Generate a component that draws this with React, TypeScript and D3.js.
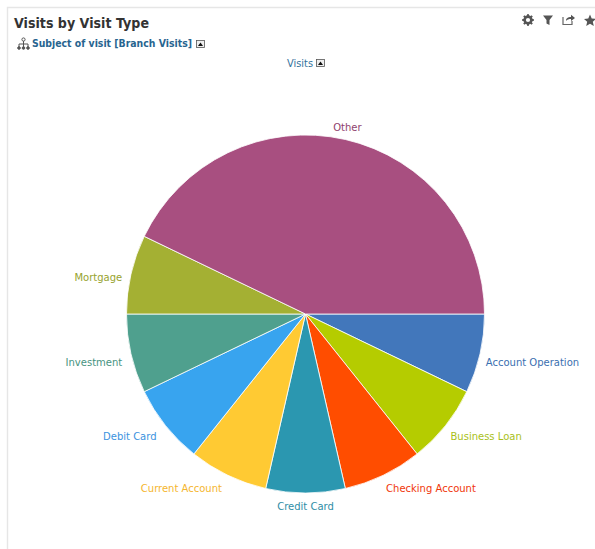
import React from "react";
import * as d3 from "d3";

const categories = ["Account Operation", "Business Loan", "Checking Account", "Credit Card", "Current Account", "Debit Card", "Investment", "Mortgage", "Other"];
const visits = [1, 1, 1, 1, 1, 1, 1, 1, 6];
const colors = ["#4277bb", "#b5cc00", "#ff4d00", "#2b97b0", "#ffca33", "#38a4ef", "#4fa08e", "#a4b033", "#a84f80"];
const labelColors = ["#3a6fb0", "#a9bf1a", "#f0360a", "#2f8ea6", "#f5b62e", "#3b93e0", "#47937f", "#97a32f", "#8f3f6e"];
// Horizontal and vertical label nudges, in slice order
const labelDx = [-3, -2, -1, 0, -2, -2, 0, 0, 0];
const labelDy = [10, 9, 9, 8, 9, 9, 10, 9, 0];

const cx = 305.5;
const cy = 314;
const radius = 179;
const labelFont = "'Lucida Grande', 'DejaVu Sans', Verdana, sans-serif";

const pie = d3.pie<number>().sort(null).startAngle(Math.PI / 2).endAngle(Math.PI * 2.5);
const arc = d3.arc<d3.PieArcDatum<number>>().innerRadius(0).outerRadius(radius);
const labelArc = d3.arc<d3.PieArcDatum<number>>().innerRadius(radius + 9).outerRadius(radius + 9);

function Collapse({ x, y }: { x: number; y: number }) {
  return (
    <g>
      <rect x={x + 0.5} y={y + 0.5} width={8} height={7} fill="#eee" stroke="#555" strokeWidth={0.8} />
      <path d={`M${x + 2},${y + 6}L${x + 4.5},${y + 2.5}L${x + 7},${y + 6}Z`} fill="#111" />
    </g>
  );
}

export default function App() {
  const arcs = pie(visits);
  const teeth = d3.range(8).map((i) => (i * 360) / 8);
  return (
    <svg width={595} height={549} style={{ position: "absolute", left: 0, top: 0, background: "#fff" }}>
      {/* Panel frame */}
      <path d="M595,7.5H7.5V549" fill="none" stroke="#e6e6e6" strokeWidth={1.4} />

      <text x={14} y={28} fontFamily={labelFont} fontWeight={700} fontSize={14} fill="#333" textLength={135} lengthAdjust="spacingAndGlyphs">Visits by Visit Type</text>

      {/* Hierarchy glyph */}
      <g stroke="#555" strokeWidth={1} fill="none">
        <circle cx={23.5} cy={39.5} r={1.6} />
        <path d="M23.5,41V44M19,47V44H28V47M23.5,44V47" />
        <circle cx={19} cy={48} r={1.3} fill="#555" />
        <circle cx={23.5} cy={48} r={1.3} fill="#555" />
        <circle cx={28} cy={48} r={1.3} fill="#555" />
      </g>
      <text x={32} y={47} fontFamily={labelFont} fontWeight={700} fontSize={10} fill="#27648f" textLength={160} lengthAdjust="spacingAndGlyphs">Subject of visit [Branch Visits]</text>
      <Collapse x={196} y={40} />

      <text x={287} y={67} fontFamily={labelFont} fontSize={10} fill="#33729c" textLength={26} lengthAdjust="spacingAndGlyphs">Visits</text>
      <Collapse x={316} y={59} />

      {/* Toolbar icons */}
      <g fill="#555">
        <circle cx={528} cy={20} r={3.4} fill="none" stroke="#555" strokeWidth={2.6} />
        {teeth.map((a) => (
          <rect key={a} x={527} y={14.2} width={2} height={2.2} transform={`rotate(${a} 528 20)`} />
        ))}
        <path d="M543,15.5H553L549.5,20V25L546.5,23.5V20Z" />
        <path d="M563,17V24.5H572V21" fill="none" stroke="#666" strokeWidth={1.2} />
        <path d="M566,21C566,18 568,17 571,17V14.8L575,18L571,21V19C569,19 567,19.5 566,21Z" />
        <path d="M590,14.5L591.7,18.5L596,18.9L592.8,21.7L593.8,26L590,23.7L586.2,26L587.2,21.7L584,18.9L588.3,18.5Z" />
      </g>

      {/* Pie slices */}
      <g transform={`translate(${cx},${cy})`}>
        {arcs.map((d, i) => (
          <path key={categories[i]} d={arc(d) ?? ""} fill={colors[i]} stroke="#fff" strokeWidth={0.8} />
        ))}
        {arcs.map((d, i) => {
          const [x, y] = labelArc.centroid(d);
          const anchor = Math.abs(x) < 60 ? "middle" : x > 0 ? "start" : "end";
          return (
            <text key={categories[i]} x={x + labelDx[i]} y={y + labelDy[i]} textAnchor={anchor} fontFamily={labelFont} fontSize={10} fill={labelColors[i]}>
              {categories[i]}
            </text>
          );
        })}
      </g>
    </svg>
  );
}
